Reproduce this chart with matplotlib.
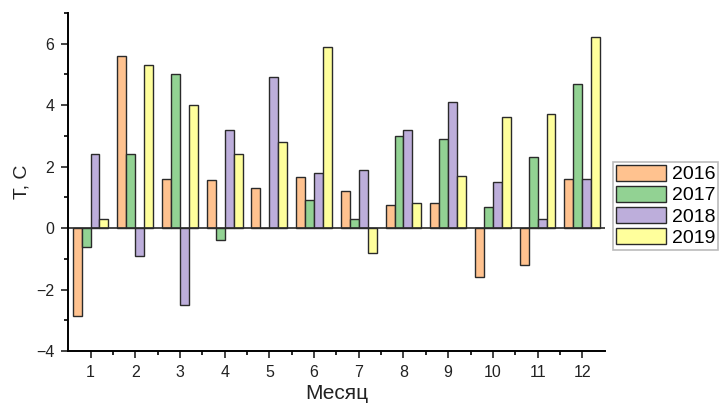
import matplotlib.pyplot as plt
import numpy as np

plt.rcParams['font.family'] = ['Liberation Sans', 'DejaVu Sans']

# Данные: отклонение температуры по месяцам
months = [1, 2, 3, 4, 5, 6, 7, 8, 9, 10, 11, 12]
t2016 = [-2.85, 5.6, 1.6, 1.55, 1.3, 1.65, 1.2, 0.75, 0.8, -1.6, -1.2, 1.6]
t2017 = [-0.6, 2.4, 5.0, -0.4, 0.0, 0.9, 0.3, 3.0, 2.9, 0.7, 2.3, 4.7]
t2018 = [2.4, -0.9, -2.5, 3.2, 4.9, 1.8, 1.9, 3.2, 4.1, 1.5, 0.3, 1.6]
t2019 = [0.3, 5.3, 4.0, 2.4, 2.8, 5.9, -0.8, 0.8, 1.7, 3.6, 3.7, 6.2]

years = ['2016', '2017', '2018', '2019']
series = [t2016, t2017, t2018, t2019]
colors = ['#FFC28F', '#92D293', '#BDAEDB', '#FFFF9C']

fig = plt.figure(figsize=(7.25, 4.03), dpi=100)
ax = fig.add_axes([0.094, 0.129, 0.740, 0.839])

x = np.array(months)
width = 0.2
offsets = [-0.3, -0.1, 0.1, 0.3]
for vals, off, c, lab in zip(series, offsets, colors, years):
    ax.bar(x + off, vals, width, color=c, edgecolor='#2a2a2a', linewidth=1.0, label=lab)

ax.axhline(0, color='#2a2a2a', linewidth=1.2)

ax.set_xlim(0.5, 12.5)
ax.set_ylim(-4, 7)
ax.set_xticks(months)
ax.set_xticks(np.arange(1.5, 12.5, 1), minor=True)
ax.set_yticks([-4, -2, 0, 2, 4, 6])
ax.set_yticks([-3, -1, 1, 3, 5, 7], minor=True)
ax.tick_params(axis='both', which='major', direction='out', length=5, width=1.2,
               labelsize=11.5, pad=5, colors='#222222')
ax.tick_params(axis='both', which='minor', direction='out', length=3, width=1.2)

ax.spines['top'].set_visible(False)
ax.spines['right'].set_visible(False)
ax.spines['left'].set_linewidth(1.4)
ax.spines['bottom'].set_linewidth(1.4)

ax.set_xlabel('Месяц', fontsize=15, color='#222222', labelpad=3)
ax.set_ylabel('T, C', fontsize=14, color='#222222')

leg = ax.legend(loc='center left', bbox_to_anchor=(1.015, 0.43), fontsize=14,
                handlelength=2.6, handleheight=0.9, borderpad=0.15,
                labelspacing=0.12, handletextpad=0.3, fancybox=False,
                edgecolor='#aaaaaa', borderaxespad=0)
leg.get_frame().set_linewidth(1.2)

fig.savefig('out.png', dpi=100)
